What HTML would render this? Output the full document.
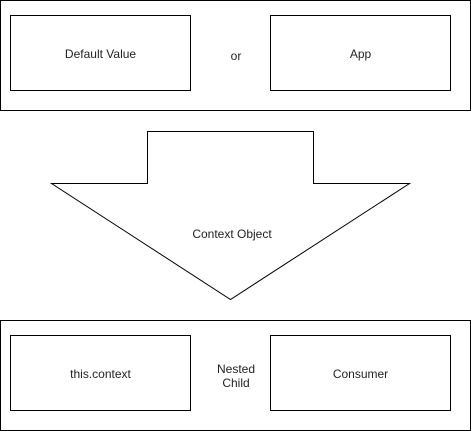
<!DOCTYPE html>
<html><head><meta charset="utf-8"><style>
html,body{margin:0;padding:0;background:#fff;width:471px;height:431px;overflow:hidden}
text{font-family:"Liberation Sans",Arial,sans-serif;font-size:12px;fill:#222}
</style></head><body>
<svg width="471" height="431" viewBox="0 0 471 431" xmlns="http://www.w3.org/2000/svg">
<g fill="#fff" stroke="#000" stroke-width="1">
<rect x="0.5" y="0.5" width="470" height="110"/>
<rect x="10.5" y="15.5" width="180" height="75"/>
<rect x="270.5" y="15.5" width="180" height="75"/>
<polygon points="147.5,131.5 313.5,131.5 313.5,183.5 409.5,183.5 230.5,299.5 51.5,183.5 147.5,183.5"/>
<rect x="0.5" y="320.5" width="470" height="110"/>
<rect x="10.5" y="335.5" width="180" height="75"/>
<rect x="270.5" y="335.5" width="180" height="75"/>
</g>
<g text-anchor="middle">
<text x="100.5" y="58">Default Value</text>
<text x="236" y="60">or</text>
<text x="360.5" y="58">App</text>
<text x="232" y="238">Context Object</text>
<text x="100.5" y="378">this.context</text>
<text x="236" y="373">Nested</text>
<text x="236" y="387">Child</text>
<text x="360.5" y="378">Consumer</text>
</g>
</svg>
</body></html>
